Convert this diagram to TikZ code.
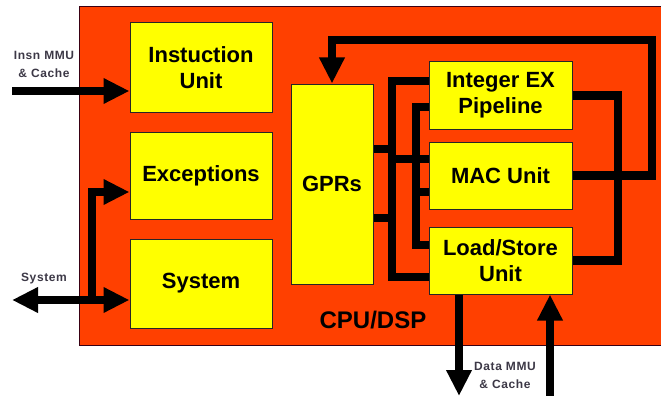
\documentclass[tikz,border=0pt]{standalone}
\usepackage{fontspec}
\setmainfont{Liberation Sans}
\newfontfamily\lblfont[LetterSpace=5.0]{Liberation Sans}
\usetikzlibrary{arrows.meta}
\definecolor{cpuorange}{RGB}{255,64,0}
\definecolor{unityellow}{RGB}{255,255,0}
\definecolor{lblgray}{RGB}{60,56,70}
\tikzset{
  unitbox/.style={draw=black!85, line width=1pt, fill=unityellow, inner sep=0pt, align=center,
    font=\fontsize{22}{26}\selectfont\bfseries},
  bus/.style={draw=black, line width=8.5pt, line join=miter},
  arr/.style={bus, -{Triangle[width=24pt,length=26pt]}},
  biarr/.style={bus, {Triangle[width=24pt,length=26pt]}-{Triangle[width=24pt,length=26pt]}},
  extlabel/.style={text=lblgray, align=center, font=\lblfont\fontsize{12}{18}\selectfont\bfseries, inner sep=0pt}
}
\begin{document}
\begin{tikzpicture}[x=1pt,y=-1pt]
\useasboundingbox (0,0) rectangle (661,396);
% CPU frame
\path[draw=black!70!purple, line width=0.8pt, fill=cpuorange] (79,6) rectangle (664,345);
\node[font=\fontsize{24}{28}\selectfont\bfseries, inner sep=0pt] (cpu) at (373,320) {CPU/DSP};
% units
\node[unitbox, minimum width=142pt, minimum height=89pt] (iu) at (201,67.5) {Instuction\\Unit};
\node[unitbox, minimum width=142pt, minimum height=87pt] (ex) at (201,175.5) {Exceptions};
\node[unitbox, minimum width=142pt, minimum height=89pt] (sy) at (201,283.5) {System};
\node[unitbox, minimum width=82pt, minimum height=200pt] (gpr) at (332,184) {GPRs};
\node[unitbox, minimum width=143pt, minimum height=67pt] (ie) at (500.5,95.5) {Integer EX\\Pipeline};
\node[unitbox, minimum width=143pt, minimum height=67pt] (mac) at (500.5,175.5) {MAC Unit};
\node[unitbox, minimum width=143pt, minimum height=67pt] (ls) at (500.5,260.5) {Load/Store\\Unit};
% external labels
\node[extlabel] (linsn) at (44,64) {Insn MMU\\\& Cache};
\node[extlabel] (lsys) at (44,279) {System};
\node[extlabel] (ldata) at (505,375) {Data MMU\\\& Cache};
% coordinates
\coordinate (insn) at (12,91);
\coordinate (sysL) at (12,300);
\coordinate (sysj) at (92,300);
\coordinate (exj) at (92,192);
\coordinate (fbR) at (652,40);
\coordinate (rbus) at (618,175);
\coordinate (ob1) at (392,81);
\coordinate (ob2) at (392,277);
\coordinate (ib1) at (416,107);
\coordinate (ib2) at (416,245);
\coordinate (g1) at (392,149);
\coordinate (g2) at (392,218);
\coordinate (m1) at (392,159);
\coordinate (m2) at (416,192);
\coordinate (dd) at (459,396);
\coordinate (du) at (550,396);
% connectors
\draw[arr] (insn) -- (insn -| iu.west);
\draw[biarr] (sysL) -- (sysL -| sy.west);
\draw[arr] (sysj) -- (exj) -- (exj -| ex.west);
\draw[arr] (mac.east) -| (fbR) -| (gpr.north);
\draw[bus] (ie.east) -| (rbus) |- (ls.east);
\draw[bus] (ob1 -| ie.west) -- (ob1) -- (ob2) -- (ob2 -| ls.west);
\draw[bus] (g1 -| gpr.east) -- (g1);
\draw[bus] (g2 -| gpr.east) -- (g2);
\draw[bus] (m1) -- (m1 -| mac.west);
\draw[bus] (ib1 -| ie.west) -- (ib1) -- (ib2) -- (ib2 -| ls.west);
\draw[bus] (m2) -- (m2 -| mac.west);
\draw[arr] (dd |- ls.south) -- (dd);
\draw[arr] (du) -- (du |- ls.south);
\end{tikzpicture}
\end{document}
